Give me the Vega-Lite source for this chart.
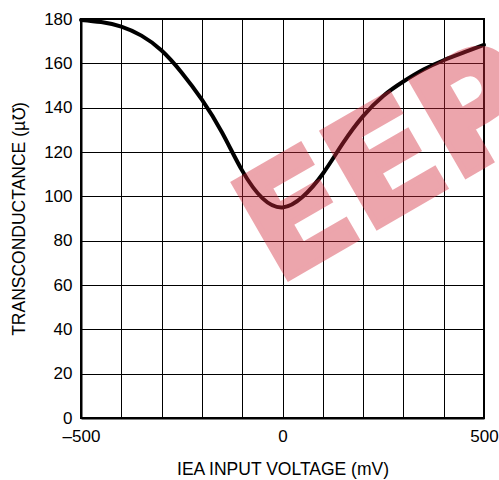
{
  "$schema": "https://vega.github.io/schema/vega-lite/v6.json",
  "autosize": "none",
  "width": 403,
  "height": 399,
  "padding": {"left": 81, "top": 19, "right": 15, "bottom": 62},
  "background": "white",
  "config": {
    "view": {"stroke": "black", "strokeWidth": 2},
    "font": "Liberation Sans"
  },
  "layer": [
    {
      "data": {"values": [
        {"v": -500, "g": 179.6}, {"v": -450, "g": 178.6},
        {"v": -400, "g": 176.6}, {"v": -350, "g": 172.5}, {"v": -300, "g": 165.8},
        {"v": -250, "g": 155.8}, {"v": -200, "g": 143.6}, {"v": -150, "g": 128.8},
        {"v": -100, "g": 111.6}, {"v": -50, "g": 99.2},
        {"v": 0, "g": 95}, 
        {"v": 50, "g": 99.8}, {"v": 100, "g": 110.2},
        {"v": 150, "g": 124}, {"v": 200, "g": 136.2}, {"v": 250, "g": 145.3},
        {"v": 300, "g": 151.8}, {"v": 350, "g": 157.2}, {"v": 400, "g": 161.4},
        {"v": 450, "g": 164.9}, {"v": 500, "g": 168.3}
      ]},
      "mark": {"type": "line", "color": "black", "strokeWidth": 4, "interpolate": "natural", "strokeCap": "round"},
      "encoding": {
        "x": {
          "field": "v", "type": "quantitative",
          "scale": {"domain": [-500, 500], "nice": false},
          "axis": {
            "values": [-500, -400, -300, -200, -100, 0, 100, 200, 300, 400, 500],
            "labelExpr": "datum.value === -500 ? '–500' : (datum.value === 0 || datum.value === 500 ? datum.label : '')",
            "labelFlush": false, "labelOverlap": false,
            "grid": true, "gridColor": "black", "gridOpacity": 1, "gridWidth": 1,
            "domain": true, "domainColor": "black", "domainWidth": 2,
            "ticks": false, "labelPadding": 10, "labelFontSize": 17, "labelColor": "black",
            "labelFont": "Liberation Sans",
            "title": "IEA INPUT VOLTAGE (mV)", "titleFontSize": 17.5, "titleFontWeight": "normal",
            "titleFont": "Liberation Sans", "titleColor": "black", "titlePadding": 16
          }
        },
        "y": {
          "field": "g", "type": "quantitative",
          "scale": {"domain": [0, 180], "nice": false},
          "axis": {
            "values": [0, 20, 40, 60, 80, 100, 120, 140, 160, 180],
            "labelOverlap": false,
            "grid": true, "gridColor": "black", "gridOpacity": 1, "gridWidth": 1,
            "domain": true, "domainColor": "black", "domainWidth": 2,
            "ticks": false, "labelPadding": 9, "labelFontSize": 17, "labelColor": "black",
            "labelFont": "Liberation Sans",
            "title": "TRANSCONDUCTANCE  (µ℧)", "titleFontSize": 17.5, "titleFontWeight": "normal",
            "titleFont": "Liberation Sans", "titleColor": "black", "titlePadding": 15
          }
        }
      }
    },
    {
      "data": {"values": [{"t": "EEP", "x": 269, "y": 113.2}]},
      "mark": {"type": "text", "font": "DejaVu Sans", "fontWeight": "bold", "fontSize": 150, "angle": -30,
               "align": "center", "baseline": "middle", "fill": "#d42a3c", "stroke": "#d42a3c", "strokeWidth": 6,
               "strokeJoin": "miter", "opacity": 0.42},
      "encoding": {
        "x": {"field": "x", "type": "quantitative"},
        "y": {"field": "y", "type": "quantitative"},
        "text": {"field": "t"}
      }
    }
  ]
}
